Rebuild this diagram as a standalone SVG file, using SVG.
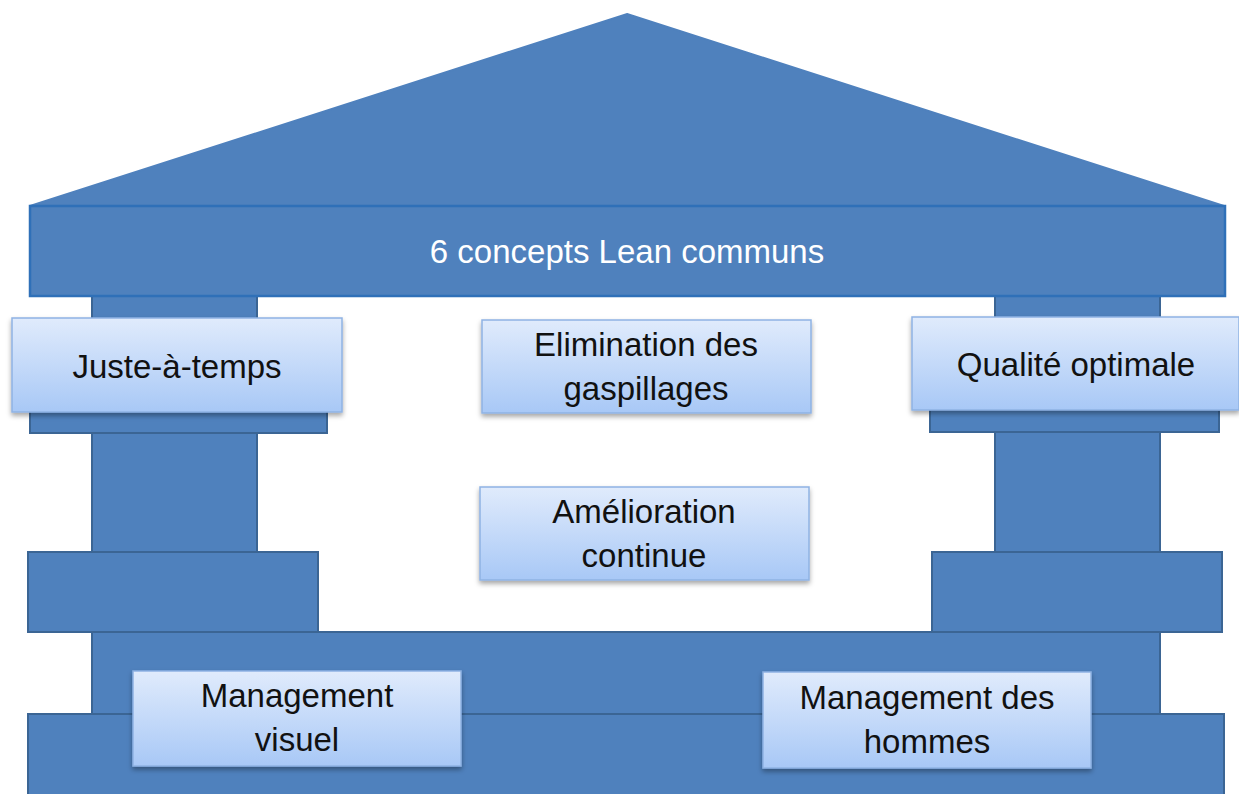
<svg xmlns="http://www.w3.org/2000/svg" width="1239" height="794" viewBox="0 0 1239 794">
<defs>
<linearGradient id="lg" x1="0" y1="0" x2="0" y2="1">
<stop offset="0" stop-color="#e0ebfc"/>
<stop offset="1" stop-color="#a8c8f6"/>
</linearGradient>
<filter id="sh" x="-10%" y="-10%" width="120%" height="130%">
<feDropShadow dx="0" dy="3" stdDeviation="2.5" flood-color="#000" flood-opacity="0.35"/>
</filter>
<style>
.b{fill:#4f81bd;stroke:#3b6594;stroke-width:2}
.lab{fill:url(#lg);stroke:#8fb3e3;stroke-width:1.5;filter:url(#sh)}
.t{font-family:"Liberation Sans",Arial,sans-serif;font-size:33px;fill:#111;text-anchor:middle}
.w{font-family:"Liberation Sans",Arial,sans-serif;font-size:33px;fill:#fff;text-anchor:middle}
</style>
</defs>
<g id="temple">
<polygon class="b" points="627,14 1224,206 30,206" style="stroke:#4f81bd"/>
<rect class="b" x="92" y="296" width="165" height="256"/>
<rect class="b" x="995" y="296" width="165" height="256"/>
<rect class="b" x="30" y="410" width="297" height="23"/>
<rect class="b" x="930" y="410" width="289" height="22"/>
<rect class="b" x="28" y="552" width="290" height="80"/>
<rect class="b" x="932" y="552" width="290" height="80"/>
<rect class="b" x="92" y="632" width="1068" height="82"/>
<rect class="b" x="28" y="714" width="1196" height="82"/>
</g>
<g id="roof">
<rect x="30" y="206" width="1195" height="90" fill="#4f81bd" stroke="#2f70b8" stroke-width="2.5"/>
<text class="w" x="627" y="263">6 concepts Lean communs</text>
</g>
<g id="n-jat">
<rect class="lab" x="12" y="318" width="330" height="94"/>
<text class="t" x="177" y="378">Juste-à-temps</text>
</g>
<g id="n-qual">
<rect class="lab" x="912" y="317" width="327" height="93"/>
<text class="t" x="1076" y="376">Qualité optimale</text>
</g>
<g id="n-elim">
<rect class="lab" x="482" y="320" width="329" height="93"/>
<text class="t" x="646" y="356">Elimination des</text>
<text class="t" x="646" y="400">gaspillages</text>
</g>
<g id="n-amel">
<rect class="lab" x="480" y="487" width="329" height="93"/>
<text class="t" x="644" y="523">Amélioration</text>
<text class="t" x="644" y="567">continue</text>
</g>
<g id="n-mv">
<rect class="lab" x="133" y="671" width="328" height="95"/>
<text class="t" x="297" y="707">Management</text>
<text class="t" x="297" y="751">visuel</text>
</g>
<g id="n-mh">
<rect class="lab" x="763" y="672" width="328" height="96"/>
<text class="t" x="927" y="709">Management des</text>
<text class="t" x="927" y="753">hommes</text>
</g>
<g id="connectors"/>
</svg>
